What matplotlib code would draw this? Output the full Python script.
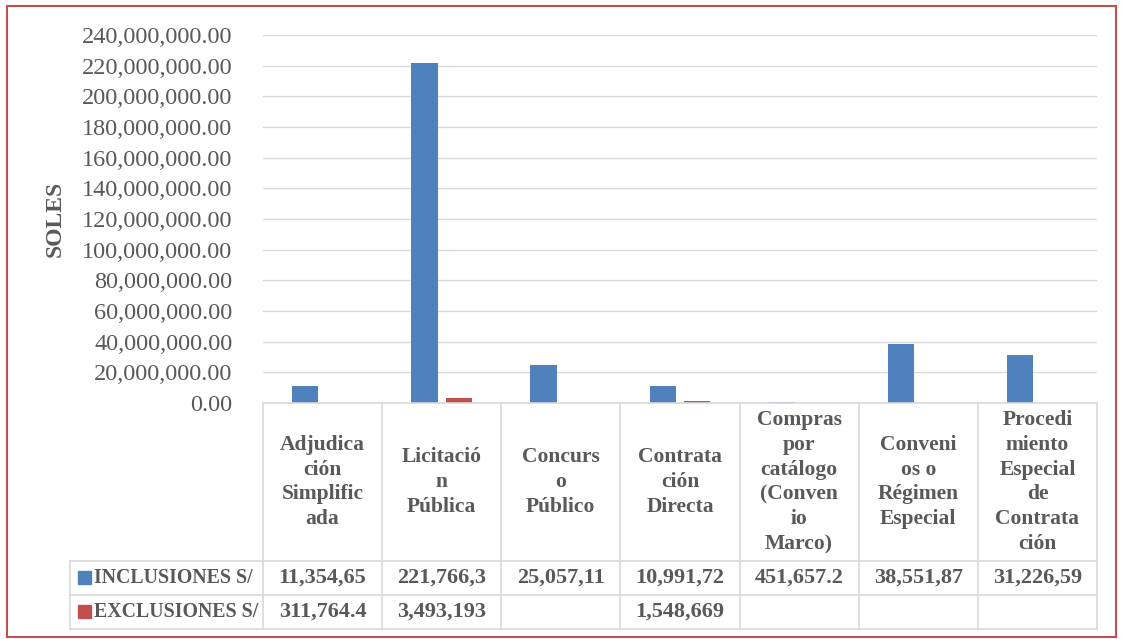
import numpy as np
import matplotlib
matplotlib.use("Agg")
import matplotlib.pyplot as plt
import matplotlib.transforms as mtransforms
from matplotlib.lines import Line2D
from matplotlib.patches import Rectangle

# Data
categories = [
    "Adjudica\nción\nSimplific\nada",
    "Licitació\nn\nPública",
    "Concurs\no\nPúblico",
    "Contrata\nción\nDirecta",
    "Compras\npor\ncatálogo\n(Conven\nio\nMarco)",
    "Conveni\nos o\nRégimen\nEspecial",
    "Procedi\nmiento\nEspecial\nde\nContrata\nción",
]
inclusiones = [11354650.0, 221766300.0, 25057110.0, 10991720.0, 451657.2, 38551870.0, 31226590.0]
exclusiones = [311764.4, 3493193.0, np.nan, 1548669.0, np.nan, np.nan, np.nan]
series_names = ["INCLUSIONES S/", "EXCLUSIONES S/"]
y_ticks = np.arange(0, 240000001, 20000000)

BLUE = "#4F81BD"
RED = "#C0504D"
TXT = "#595959"
GRID = "#D9D9D9"
FONT = "Liberation Serif"

W, H = 1124, 639
fig = plt.figure(figsize=(W / 100, H / 100), dpi=100)
# pixel coordinates (origin top-left)
px = mtransforms.Affine2D().scale(1 / W, -1 / H).translate(0, 1) + fig.transFigure

left, right, top, bottom = 263, 1097, 35, 403
ax = fig.add_axes([left / W, 1 - bottom / H, (right - left) / W, (bottom - top) / H])

x = np.arange(len(categories))
bw = 0.22
ax.bar(x - 0.145, inclusiones, bw, color=BLUE, zorder=3)
ax.bar(x + 0.145, exclusiones, bw, color=RED, zorder=3)

ax.set_xlim(-0.5, len(categories) - 0.5)
ax.set_ylim(0, 240000000)
ax.set_yticks(y_ticks)
ax.set_yticklabels([f"{v:,.2f}" for v in y_ticks], fontfamily=FONT, fontsize=17.5, color=TXT)
ax.tick_params(axis="y", length=0, pad=22)
ax.set_xticks([])
ax.grid(axis="y", color=GRID, lw=1, zorder=0)
for s in ax.spines.values():
    s.set_visible(False)

fig.text(55 / W, 1 - 219 / H, "SOLES", rotation=90, ha="center", va="center",
         fontfamily=FONT, fontsize=17, fontweight="bold", color=TXT)

# data table below the plot
row_tops = [bottom, 561, 595, 629]
leg_left = 70
colw = (right - left) / len(categories)
col_edges = [left + i * colw for i in range(len(categories) + 1)]

def hline(y, x0, x1):
    fig.add_artist(Line2D([x0, x1], [y, y], color=GRID, lw=1.2, transform=px))

def vline(xx, y0, y1):
    fig.add_artist(Line2D([xx, xx], [y0, y1], color=GRID, lw=1.2, transform=px))

hline(row_tops[0], left, right)
for y in row_tops[1:]:
    hline(y, leg_left, right)
for xx in col_edges:
    vline(xx, row_tops[0], row_tops[3])
vline(leg_left, row_tops[1], row_tops[3])

for i, lab in enumerate(categories):
    cx = (col_edges[i] + col_edges[i + 1]) / 2
    fig.text(cx / W, 1 - (row_tops[0] + row_tops[1]) / 2 / H, lab, ha="center", va="center",
             fontfamily=FONT, fontsize=15.5, fontweight="bold", color=TXT, linespacing=1.33,
             multialignment="center")

for r, (vals, name, col) in enumerate(zip([inclusiones, exclusiones], series_names, [BLUE, RED])):
    cy = (row_tops[r + 1] + row_tops[r + 2]) / 2
    fig.add_artist(Rectangle((78, cy - 7), 13, 13, color=col, transform=px))
    fig.text(94 / W, 1 - cy / H, name, ha="left", va="center",
             fontfamily=FONT, fontsize=14.3, fontweight="bold", color=TXT)
    for i, v in enumerate(vals):
        if np.isnan(v):
            continue
        cx = (col_edges[i] + col_edges[i + 1]) / 2
        # the cells in the source are cut at 9 characters
        fig.text(cx / W, 1 - cy / H, f"{v:,.2f}"[:9], ha="center", va="center",
                 fontfamily=FONT, fontsize=16, fontweight="bold", color=TXT)

# chart border
fig.add_artist(Rectangle((7, 6), W - 15, H - 8, fill=False, edgecolor=RED, lw=1.5, transform=px))

fig.savefig("out.png", dpi=100)
